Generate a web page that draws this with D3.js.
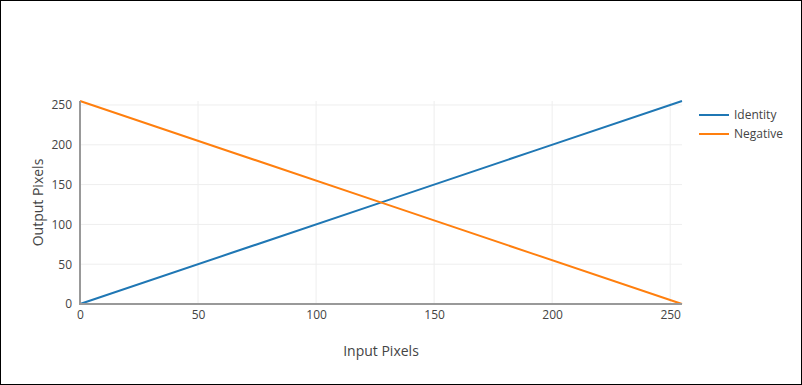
<!DOCTYPE html>
<html><head><meta charset="utf-8">
<script src="https://cdn.jsdelivr.net/npm/d3@7"></script>
<style>
html,body{margin:0;padding:0;background:#fff;}
svg{display:block;font-family:"Open Sans",sans-serif;}
</style></head>
<body>
<svg id="chart" width="802" height="385"></svg>
<script>
const inputPixels = [0, 64, 128, 192, 255];
const identityValues = [0, 64, 128, 192, 255];
const negativeValues = [255, 191, 127, 63, 0];
const xTicks = [0, 50, 100, 150, 200, 250];
const yTicks = [0, 50, 100, 150, 200, 250];
const seriesNames = ["Identity", "Negative"];
const seriesColors = ["#1f77b4", "#ff7f0e"];

const svg = d3.select("#chart");
svg.append("rect").attr("x",0.5).attr("y",0.5).attr("width",801).attr("height",384)
  .attr("fill","#fff").attr("stroke","#000").attr("stroke-width",1);

const L = 80, R = 682, T = 101, B = 304;
const x = d3.scaleLinear().domain([0,255]).range([L,R]);
const y = d3.scaleLinear().domain([0,255]).range([B,T]);

const g = svg.append("g");
// grid
g.selectAll(".gx").data(xTicks.filter(d=>d!==0)).enter().append("line")
  .attr("x1",d=>x(d)).attr("x2",d=>x(d)).attr("y1",T).attr("y2",B)
  .attr("stroke","#eee").attr("stroke-width",1);
g.selectAll(".gy").data(yTicks.filter(d=>d!==0)).enter().append("line")
  .attr("x1",L).attr("x2",R).attr("y1",d=>y(d)).attr("y2",d=>y(d))
  .attr("stroke","#eee").attr("stroke-width",1);

// series
const series = [identityValues, negativeValues];
const line = d3.line().x((d,i)=>x(inputPixels[i])).y(d=>y(d));
series.forEach((s,k)=>{
  g.append("path").datum(s).attr("d",line).attr("fill","none")
   .attr("stroke",seriesColors[k]).attr("stroke-width",2);
});

// zero lines
g.append("line").attr("x1",x(0)).attr("x2",x(0)).attr("y1",T).attr("y2",B+1)
  .attr("stroke","#999").attr("stroke-width",2);
g.append("line").attr("x1",L-1).attr("x2",R).attr("y1",y(0)).attr("y2",y(0))
  .attr("stroke","#999").attr("stroke-width",2);

// axes labels via d3 axes
const xAxis = d3.axisBottom(x).tickValues(xTicks).tickSize(0).tickPadding(6);
const yAxis = d3.axisLeft(y).tickValues(yTicks).tickSize(0).tickPadding(6);
const gx = svg.append("g").attr("transform",`translate(0,${B})`).call(xAxis);
const gy = svg.append("g").attr("transform",`translate(${L-2},0)`).call(yAxis);
[gx,gy].forEach(a=>{
  a.select(".domain").remove();
  a.selectAll("text").attr("fill","#444").style("font-size","12px")
    .style("font-family","'Open Sans',sans-serif");
});

svg.append("text").attr("x",(L+R)/2).attr("y",356).attr("text-anchor","middle")
  .attr("fill","#444").style("font-size","14px").text("Input Pixels");
svg.append("text").attr("transform",`translate(43,${(T+B)/2}) rotate(-90)`)
  .attr("text-anchor","middle").attr("fill","#444").style("font-size","14px").text("Output Pixels");

// legend
seriesNames.forEach((n,k)=>{
  const ly = 115 + k*19;
  svg.append("line").attr("x1",699).attr("x2",729).attr("y1",ly).attr("y2",ly)
    .attr("stroke",seriesColors[k]).attr("stroke-width",2);
  svg.append("text").attr("x",734).attr("y",ly).attr("dy","0.35em")
    .attr("fill","#444").style("font-size","12px").text(n);
});
</script>
</body></html>
